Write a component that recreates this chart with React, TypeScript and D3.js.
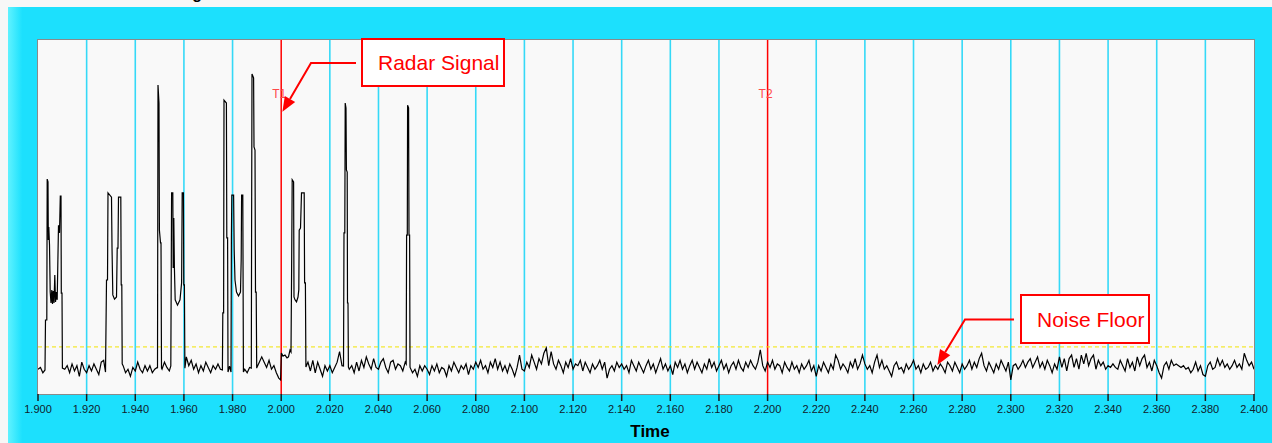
import React from "react";
import * as d3 from "d3";

// ---------- data ----------
const T_START = 1.9;
const T_END = 2.4;
const SAMPLE_STEP = 0.001;
const Y_MIN = -100;
const Y_MAX = 0;

const tickValues = d3.range(0, 26).map((i) => +(1.9 + i * 0.02).toFixed(3));
const cursors = [
  { label: "T1", t: 2.0 },
  { label: "T2", t: 2.2 },
];
const thresholdLevel = -86.7;
const xAxisTitle = "Time";
const chartTitle = "Timing";

// noise floor samples, one per ms
const noise1900 = [
  -93, -92.5, -94, -93, -92, -92, -92, -92, -92, -92,
  -92, -93, -92, -94, -91.5, -93.5, -92, -95, -91, -93,
  -94, -92, -93.5, -91.5, -93, -94.5, -91, -90.5, -92, -92,
  -92, -92, -92, -92, -92, -92, -94, -93, -95, -92.5,
  -93.5, -91, -93, -94, -92, -93.5, -92, -94, -93, -92.5,
  -92, -93, -91, -92.5, -93.5, -92, -92, -92, -92, -92,
  -92, -89.5, -92, -90.5, -93, -91.5, -94, -92, -93.5, -91,
  -92.5, -94, -92, -93, -91.5, -93, -92, -92, -92, -92,
  -92, -92, -92, -92, -92, -93, -94, -92.5, -92, -92,
  -92.5, -91, -89.5, -91, -92.5, -90.5, -93, -92, -94, -95.5,
];
const noise2000 = [
  -92, -92, -92, -92, -92, -92, -92, -92, -92, -92,
  -92, -91, -93.5, -90.5, -94, -91, -93, -95, -92, -93.5,
  -92, -94, -92.5, -91, -88, -92, -92, -92, -93, -92,
  -94, -91, -93.5, -90.5, -92.5, -89.5, -91.5, -93, -90, -92.5,
  -93, -91, -90, -92.5, -94, -91, -90.5, -93, -91.5, -92,
  -93.5, -91, -92, -92.5, -94, -93, -95, -92, -93.5, -92,
  -93, -94.5, -92, -93.5, -91.5, -94, -92.5, -93, -95, -92,
  -93.5, -91, -92.5, -94, -92, -93, -91.5, -94.5, -92, -93,
  -91, -92.5, -90.5, -93, -92, -94, -91, -92.5, -90, -93,
  -91, -93.5, -92, -94, -91.5, -93, -95, -92.5, -89, -93,
];
const noise2100 = [
  -93.5, -91, -92.5, -89, -91, -93, -90, -91.5, -88.5, -87,
  -92, -88, -91.5, -93, -90.5, -92, -94, -91, -92.5, -90,
  -93, -91.5, -92, -90.5, -93.5, -91, -92.5, -94, -91.5, -93,
  -92, -90.5, -93, -91, -95.5, -93, -92, -93.5, -91, -92.5,
  -91.5, -93, -92, -94, -90.5, -92, -93.5, -91, -92.5, -94,
  -92, -90.5, -93, -91.5, -94, -92, -90, -93, -91.5, -93.5,
  -92, -94.5, -91, -92.5, -90.5, -93, -91.5, -94, -92, -90.5,
  -93, -91, -92.5, -94, -91.5, -93, -90, -92.5, -91, -93.5,
  -92, -90.5, -93, -91.5, -94, -92, -91, -93, -90.5, -92.5,
  -93.5, -91, -92.5, -90.5, -92, -93, -91, -87.5, -92, -93.5,
];
const noise2200 = [
  -91, -92.5, -90.5, -93, -91.5, -92, -94, -91, -92.5, -93.5,
  -91, -93, -92, -94, -91.5, -93, -92, -90.5, -93.5, -92,
  -95, -92, -93.5, -91, -92.5, -94, -91.5, -93, -89, -90.5,
  -93, -91.5, -92.5, -94, -91, -92.5, -90, -93, -91.5, -89,
  -91.5, -93, -92, -94, -91, -89, -92.5, -90.5, -93, -92,
  -93.5, -95, -92, -91, -93, -92.5, -94, -91.5, -93, -92,
  -90.5, -93, -92, -94, -91.5, -93, -92.5, -91, -93.5, -92,
  -93, -91.5, -92.5, -94, -91, -92, -93.5, -91, -92.5, -94,
  -91.5, -93, -92, -90.5, -93, -91, -92.5, -90, -88.5, -92,
  -93.5, -91, -92.5, -94, -91.5, -93, -90.5, -92, -93.5, -91,
];
const noise2300 = [
  -96, -92, -91.5, -93, -92, -90.5, -92.5, -91, -90, -92.5,
  -91, -89.5, -92.5, -91, -93, -90.5, -92, -94, -91.5, -93,
  -89.5, -92.5, -90, -93.5, -90, -89, -92.5, -90, -93, -89,
  -91.5, -88.5, -92, -90, -89, -93, -90.5, -92, -91, -93,
  -92, -92.5, -91.5, -92.5, -93, -90.5, -92, -93.5, -90, -92.5,
  -91, -93.5, -89.5, -92, -90, -89, -92.5, -91, -93.5, -90.5,
  -92, -94, -95.5, -92, -91, -93, -90.5, -92, -91.5, -92,
  -92.5, -92, -93, -92.5, -94, -93, -91, -93.5, -92, -94.5,
  -95, -92, -91, -93, -92.5, -90, -92, -90.5, -92.5, -91.5,
  -93, -92, -90.5, -92.5, -91.5, -93, -88.5, -90.5, -92, -91,
  -93,
];

// radar pulse bursts: [time (s), level (dBm)]
const pulseA: [number, number][] = [
  [1.90288, -93.2], [1.90308, -79.1], [1.90362, -79.1], [1.90378, -39.3], [1.90411, -40.1],
  [1.90424, -56.5], [1.90444, -52.8], [1.90473, -57.9], [1.90502, -71.2], [1.90535, -74.3],
  [1.90567, -70.6], [1.90596, -74.6], [1.90625, -70.9], [1.90658, -74.3], [1.90691, -66.4],
  [1.9072, -74.0], [1.90761, -71.2], [1.90789, -73.4], [1.90814, -63.6], [1.90843, -52.3],
  [1.90884, -54.5], [1.90917, -44.1], [1.90946, -44.1], [1.90958, -71.5], [1.90987, -71.5],
  [1.91003, -92.7],
];
const pulseB: [number, number][] = [
  [1.92776, -93.8], [1.92817, -67.8], [1.92858, -67.8], [1.92878, -43.2], [1.93022, -44.4],
  [1.93043, -58.5], [1.93076, -72.0], [1.93146, -73.2], [1.93228, -72.6], [1.93257, -58.8],
  [1.93289, -58.8], [1.9331, -44.4], [1.93405, -44.4], [1.93421, -69.2], [1.93446, -69.2],
  [1.93462, -91.5],
];
const pulseC1: [number, number][] = [
  [1.94914, -92.7], [1.94934, -12.7], [1.94975, -17.8], [1.94992, -53.7], [1.95037, -57.3],
  [1.95058, -57.3], [1.95078, -92.7],
];
const pulseC2: [number, number][] = [
  [1.95461, -92.1], [1.95477, -68.6], [1.95493, -43.2], [1.95543, -43.2], [1.95559, -64.4],
  [1.95584, -50.3], [1.95609, -64.4], [1.95641, -73.4], [1.95736, -74.9], [1.95839, -73.4],
  [1.95905, -68.6], [1.95929, -43.2], [1.95979, -43.2], [1.95995, -69.2], [1.9602, -69.2],
  [1.9604, -92.7],
];
const pulseD1: [number, number][] = [
  [1.97582, -93.2], [1.97599, -77.1], [1.97632, -77.1], [1.97648, -17.0], [1.97747, -17.8],
  [1.97763, -55.9], [1.97796, -55.9], [1.97813, -93.8], [1.97874, -92.1], [1.97936, -93.8],
  [1.97952, -55.9], [1.97969, -43.8], [1.98043, -43.8], [1.98067, -59.3], [1.981, -67.8],
  [1.98162, -71.2], [1.98244, -72.3], [1.98326, -71.2], [1.98355, -62.1], [1.98372, -43.8],
  [1.98421, -43.8], [1.98446, -93.8],
];
const pulseD2: [number, number][] = [
  [1.98771, -92.7], [1.98783, -53.1], [1.98799, -9.6], [1.98865, -10.7], [1.98882, -30.2],
  [1.98923, -31.1], [1.98943, -71.2], [1.98972, -71.2], [1.98993, -92.7],
];
const pulseE: [number, number][] = [
  [1.99975, -96.0], [2.00008, -88.4], [2.00074, -89.3], [2.00156, -89.0], [2.00239, -89.8],
  [2.003, -89.5], [2.00362, -87.6], [2.00403, -88.1], [2.00428, -65.0], [2.00452, -39.5],
  [2.0051, -40.1], [2.00526, -72.6], [2.00567, -73.4], [2.00629, -74.0], [2.00691, -72.6],
  [2.00724, -70.6], [2.0074, -53.7], [2.00794, -53.1], [2.00835, -43.2], [2.00946, -43.2],
  [2.00962, -68.6], [2.00995, -68.6], [2.01016, -92.4],
];
const pulseF: [number, number][] = [
  [2.02562, -92.1], [2.02582, -54.5], [2.02615, -54.5], [2.02632, -17.8], [2.02664, -19.2],
  [2.02681, -36.7], [2.02714, -37.3], [2.02726, -74.3], [2.02747, -74.3], [2.02763, -92.4],
];
const pulseG: [number, number][] = [
  [2.0514, -91.5], [2.05156, -55.1], [2.05185, -55.1], [2.05197, -18.4], [2.05238, -19.2],
  [2.05255, -55.1], [2.0528, -55.1], [2.05296, -92.1],
];

const callouts = [
  { text: "Radar Signal", tipT: 2.0005, tipV: -20.3, elbow: [311, 63], lineEnd: 356, box: [362, 39, 142, 47] },
  { text: "Noise Floor", tipT: 2.2698, tipV: -91.8, elbow: [965, 319.5], lineEnd: 1014, box: [1021, 295, 128, 48] },
];

// ---------- layout ----------
const W = 1272;
const H = 443;
const plot = { left: 38, right: 1254, top: 40, bottom: 394 };
const FONT = "'Liberation Sans', Arial, Helvetica, sans-serif";

const x = d3.scaleLinear().domain([T_START, T_END]).range([plot.left, plot.right]);
const y = d3.scaleLinear().domain([Y_MIN, Y_MAX]).range([plot.bottom, plot.top]);

function buildSeries(): [number, number][] {
  const all = [...noise1900, ...noise2000, ...noise2100, ...noise2200, ...noise2300];
  const pulses = [pulseA, pulseB, pulseC1, pulseC2, pulseD1, pulseD2, pulseE, pulseF, pulseG];
  const pts: [number, number][] = [];
  all.forEach((v, i) => {
    const t = T_START + i * SAMPLE_STEP;
    const inside = pulses.some((p) => t >= p[0][0] && t <= p[p.length - 1][0]);
    if (!inside) pts.push([t, v]);
  });
  pulses.forEach((p) => p.forEach((d) => pts.push(d)));
  pts.sort((a, b) => a[0] - b[0]);
  return pts;
}

function arrow(x1: number, y1: number, x2: number, y2: number, len: number, hw: number) {
  const dx = x2 - x1;
  const dy = y2 - y1;
  const L = Math.hypot(dx, dy);
  const ux = dx / L;
  const uy = dy / L;
  const bx = x2 - ux * len;
  const by = y2 - uy * len;
  return {
    base: [bx, by],
    head: `M${x2},${y2}L${bx - uy * hw},${by + ux * hw}L${bx + uy * hw},${by - ux * hw}Z`,
  };
}

export default function App() {
  const series = buildSeries();
  const line = d3
    .line<[number, number]>()
    .x((d) => x(d[0]))
    .y((d) => y(d[1]));
  const fmt = d3.format(".3f");
  const cursorTs = cursors.map((c) => c.t);
  const gridTicks = tickValues.filter(
    (t) => t > T_START + 1e-9 && t < T_END - 1e-9 && !cursorTs.some((c) => Math.abs(c - t) < 1e-9)
  );

  return (
    <svg
      width={W}
      height={H}
      viewBox={`0 0 ${W} ${H}`}
      style={{ position: "absolute", left: 0, top: 0, display: "block" }}
    >
      <defs>
        <linearGradient id="leftEdge" x1="0" x2="1" y1="0" y2="0">
          <stop offset="0" stopColor="#60f2ff" />
          <stop offset="1" stopColor="#1de1fd" />
        </linearGradient>
        <clipPath id="plotClip">
          <rect x={plot.left} y={plot.top} width={plot.right - plot.left} height={plot.bottom - plot.top} />
        </clipPath>
      </defs>

      <rect x={0} y={0} width={W} height={H} fill="#f7f7f7" />
      <text x={202} y={-1} textAnchor="end" fontFamily={FONT} fontSize={16} fontWeight="bold" fill="#000">
        {chartTitle}
      </text>

      <rect x={8} y={7} width={W - 8} height={H - 7} fill="#1ce0fd" />
      <rect x={8} y={7} width={14} height={H - 7} fill="url(#leftEdge)" />

      <rect
        x={plot.left}
        y={plot.top}
        width={plot.right - plot.left}
        height={plot.bottom - plot.top}
        fill="#f9f9f9"
      />

      {gridTicks.map((t) => (
        <line key={t} x1={x(t)} x2={x(t)} y1={plot.top} y2={plot.bottom} stroke="#35d9f7" strokeWidth={1.6} />
      ))}

      {cursors.map((c) => (
        <line key={c.label} x1={x(c.t)} x2={x(c.t)} y1={plot.top} y2={plot.bottom} stroke="#ff0000" strokeWidth={1.5} />
      ))}

      <line
        x1={plot.left}
        x2={plot.right}
        y1={y(thresholdLevel)}
        y2={y(thresholdLevel)}
        stroke="#f2e400"
        strokeWidth={1}
        strokeDasharray="4 3"
      />

      <path d={line(series) || ""} fill="none" stroke="#000" strokeWidth={1.2} clipPath="url(#plotClip)" />

      <rect
        x={plot.left - 0.5}
        y={plot.top - 0.5}
        width={plot.right - plot.left + 1}
        height={plot.bottom - plot.top + 1}
        fill="none"
        stroke="#8a8a8a"
        strokeWidth={1}
      />

      {cursors.map((c) => (
        <text
          key={c.label}
          x={x(c.t) - 2}
          y={98}
          textAnchor="middle"
          fontFamily={FONT}
          fontSize={12}
          fill="#ff4a4a"
        >
          {c.label}
        </text>
      ))}

      {callouts.map((c) => {
        const tx = x(c.tipT);
        const ty = y(c.tipV);
        const a = arrow(c.elbow[0], c.elbow[1], tx, ty, 15, 6);
        const [bx, by, bw, bh] = c.box;
        return (
          <g key={c.text}>
            <polyline
              points={`${c.lineEnd},${c.elbow[1]} ${c.elbow[0]},${c.elbow[1]} ${a.base[0]},${a.base[1]}`}
              fill="none"
              stroke="#ff0000"
              strokeWidth={2}
            />
            <path d={a.head} fill="#ff0000" />
            <rect x={bx} y={by} width={bw} height={bh} fill="#ffffff" stroke="#ff0000" strokeWidth={2} />
            <text x={bx + 16} y={by + bh / 2 + 7.5} fontFamily={FONT} fontSize={21} fill="#ff0000">
              {c.text}
            </text>
          </g>
        );
      })}

      {tickValues.map((t) => (
        <g key={t}>
          <line x1={x(t)} x2={x(t)} y1={plot.bottom} y2={plot.bottom + 7} stroke="#1a1a1a" strokeWidth={1.5} />
          <text x={x(t)} y={plot.bottom + 19} textAnchor="middle" fontFamily={FONT} fontSize={11} fill="#10202c">
            {fmt(t)}
          </text>
        </g>
      ))}

      <text x={650} y={437} textAnchor="middle" fontFamily={FONT} fontSize={17} fontWeight="bold" fill="#000">
        {xAxisTitle}
      </text>
    </svg>
  );
}
